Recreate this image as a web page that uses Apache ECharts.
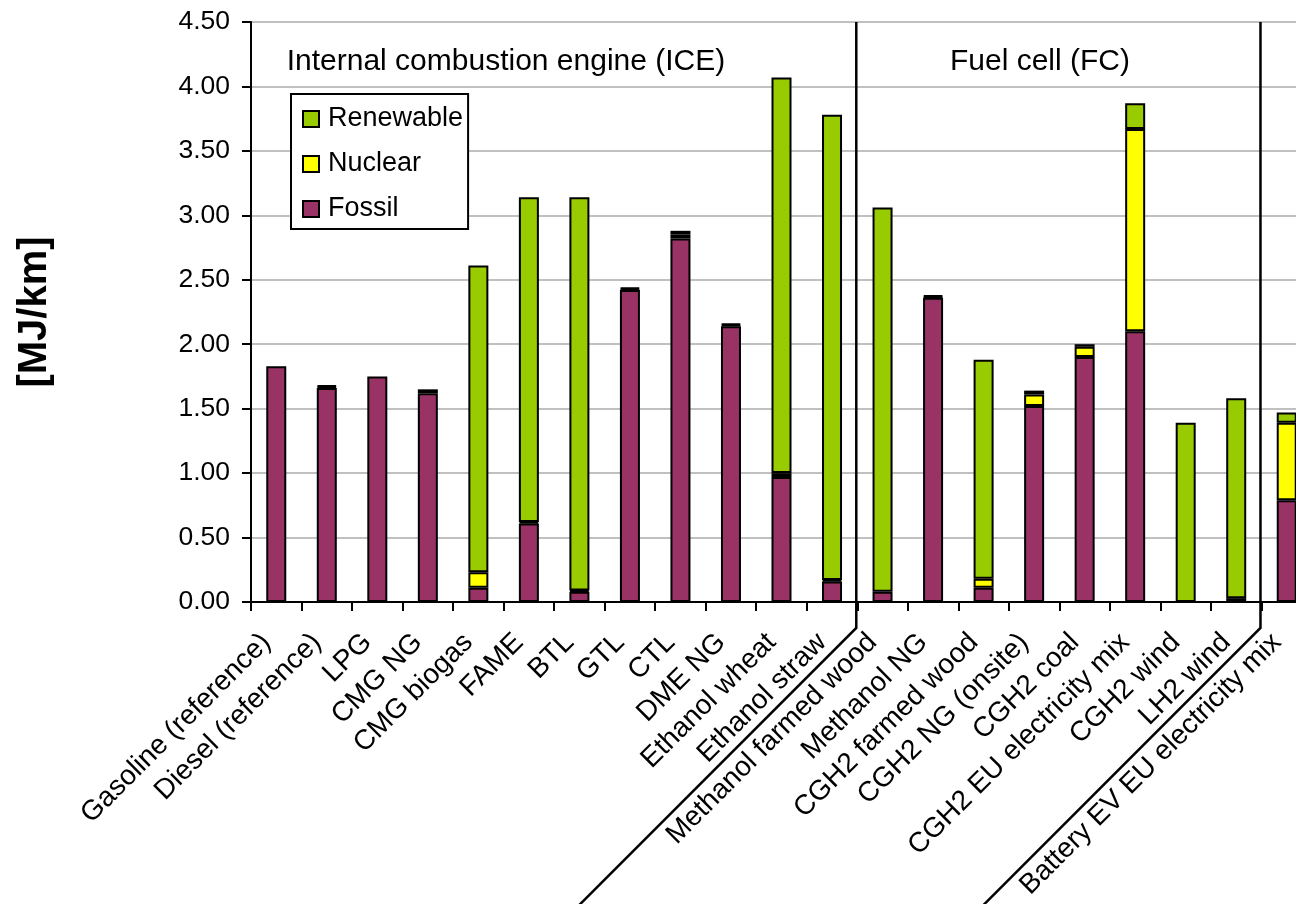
<!DOCTYPE html>
<html><head><meta charset="utf-8">
<script src="https://cdn.jsdelivr.net/npm/echarts@6/dist/echarts.min.js"></script>
<style>html,body{margin:0;padding:0;background:#fff}#c{width:1296px;height:904px}</style>
</head><body><div id="c"></div>
<script>
const categories = [
  'Gasoline (reference)', 'Diesel (reference)', 'LPG', 'CMG NG', 'CMG biogas', 'FAME', 'BTL', 'GTL', 'CTL', 'DME NG',
  'Ethanol wheat', 'Ethanol straw', 'Methanol farmed wood', 'Methanol NG', 'CGH2 farmed wood', 'CGH2 NG (onsite)',
  'CGH2 coal', 'CGH2 EU electricity mix', 'CGH2 wind', 'LH2 wind', 'Battery EV EU electricity mix'
];
const fossil    = [1.83, 1.66, 1.75, 1.62, 0.11, 0.61, 0.08, 2.42, 2.82, 2.14, 0.97, 0.16, 0.08, 2.36, 0.11, 1.52, 1.90, 2.10, null, 0.03, 0.79];
const nuclear   = [null, 0.01, null, 0.03, 0.12, 0.01, 0.01, 0.01, 0.03, 0.01, 0.03, 0.01, null, 0.01, 0.07, 0.09, 0.08, 1.57, null, null, 0.60];
const renewable = [null, 0.01, null, null, 2.38, 2.52, 3.05, 0.01, 0.03, 0.01, 3.07, 3.61, 2.98, 0.01, 1.70, 0.03, 0.02, 0.20, 1.39, 1.55, 0.08];
const yMin = 0, yMax = 4.5, yStep = 0.5;
const sectionTitles = ['Internal combustion engine (ICE)', 'Fuel cell (FC)'];
const dividerAfter = [11, 19];

const FONT = "'Liberation Sans', Arial, sans-serif";
const chart = echarts.init(document.getElementById('c'), null, {renderer: 'canvas'});

function mk(name, data, color) {
  return {
    name, type: 'bar', stack: 'total', data, barWidth: 20,
    itemStyle: {color, borderColor: '#000', borderWidth: 2},
    emphasis: {disabled: true}
  };
}

const option = {
  animation: false,
  backgroundColor: '#fff',
  grid: {left: 251, right: -16, top: 22, bottom: 302, show: true, borderColor: '#000', borderWidth: 2,
         backgroundColor: 'transparent', containLabel: false, outerBoundsMode: 'none'},
  legend: {
    data: ['Renewable', 'Nuclear', 'Fossil'], orient: 'vertical', left: 291, top: 94,
    padding: [10, 5, 5, 11], itemGap: 15, itemWidth: 16, itemHeight: 16, icon: 'rect',
    backgroundColor: '#fff', borderColor: '#000', borderWidth: 2, selectedMode: false,
    textStyle: {fontSize: 27, color: '#000', fontFamily: FONT, lineHeight: 30, padding: [0, 0, 0, 4]}
  },
  xAxis: {
    type: 'category', data: categories,
    axisLine: {lineStyle: {color: '#000', width: 2}},
    axisTick: {show: true, length: 9, lineStyle: {color: '#000', width: 2}, alignWithLabel: false},
    axisLabel: {interval: 0, rotate: 45, margin: 46, fontSize: 28, color: '#000', fontFamily: FONT,
                verticalAlign: 'bottom', hideOverlap: false},
    splitLine: {show: false}
  },
  yAxis: {
    type: 'value', min: yMin, max: yMax, interval: yStep,
    name: '[MJ/km]', nameLocation: 'middle', nameGap: 196, nameRotate: 90,
    nameTextStyle: {fontSize: 40, fontWeight: 'bold', color: '#000', fontFamily: FONT},
    axisLine: {show: true, lineStyle: {color: '#000', width: 2}},
    axisTick: {show: true, length: 9, lineStyle: {color: '#000', width: 2}},
    axisLabel: {margin: 21, fontSize: 26.5, color: '#000', fontFamily: FONT, formatter: v => v.toFixed(2)},
    splitLine: {show: true, lineStyle: {color: '#c0c0c0', width: 2}}
  },
  series: [
    mk('Fossil', fossil, '#993366'),
    mk('Nuclear', nuclear, '#ffff00'),
    mk('Renewable', renewable, '#99cc00')
  ]
};
chart.setOption(option);

const bendY = 628;
const graphics = [];
dividerAfter.forEach(i => {
  const x = (chart.convertToPixel({xAxisIndex: 0}, categories[i]) + chart.convertToPixel({xAxisIndex: 0}, categories[i + 1])) / 2 - 1;
  const yTop = chart.convertToPixel({yAxisIndex: 0}, yMax);
  graphics.push({type: 'polyline', z: 100, shape: {points: [[x, yTop], [x, bendY], [x - 300, bendY + 300]]},
                 style: {stroke: '#000', lineWidth: 2.5, fill: null}});
});
graphics.push({type: 'text', z: 100, x: 506, y: 62, style: {text: sectionTitles[0], font: "30px " + FONT, fill: '#000', textAlign: 'center', textVerticalAlign: 'middle'}});
graphics.push({type: 'text', z: 100, x: 1040, y: 62, style: {text: sectionTitles[1], font: "30px " + FONT, fill: '#000', textAlign: 'center', textVerticalAlign: 'middle'}});
chart.setOption({graphic: graphics});
</script>
</body></html>
